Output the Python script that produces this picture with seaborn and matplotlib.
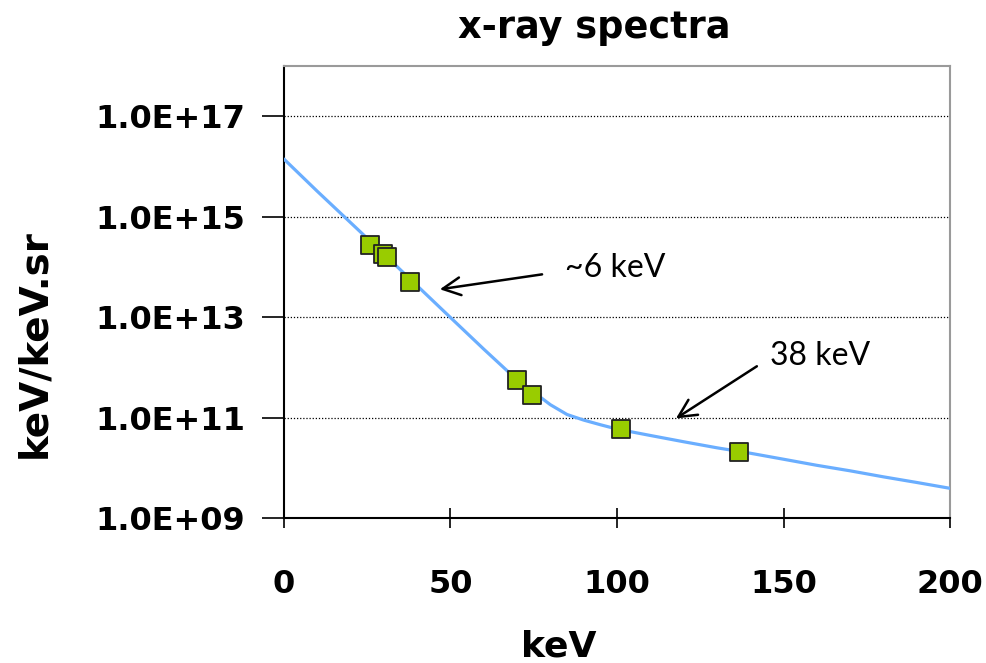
import numpy as np
import pandas as pd
import matplotlib
matplotlib.use("Agg")
import matplotlib.pyplot as plt
import seaborn as sns

# ---- data ----
line_kev = [0, 10, 20, 30, 40, 50, 60, 70, 75, 80, 85, 90, 95, 100,
            110, 120, 130, 140, 150, 160, 170, 180, 190, 200]
line_flux = [1.4e16, 3.2e15, 7.6e14, 1.8e14, 4.2e13, 9.8e12, 2.3e12, 5.6e11,
             3.2e11, 1.8e11, 1.15e11, 8.9e10, 7.2e10, 5.9e10, 4.4e10, 3.3e10,
             2.5e10, 1.95e10, 1.48e10, 1.12e10, 8.7e9, 6.6e9, 5.1e9, 3.9e9]
pts_kev = [25.8, 29.7, 30.9, 37.8, 70.0, 74.5, 101.2, 136.6]
pts_flux = [2.7e14, 1.8e14, 1.55e14, 4.9e13, 5.7e11, 2.8e11, 6.0e10, 2.1e10]
x_ticks = [0, 50, 100, 150, 200]
y_ticks = [1e9, 1e11, 1e13, 1e15, 1e17]
y_tick_labels = ["1.0E+09", "1.0E+11", "1.0E+13", "1.0E+15", "1.0E+17"]
title = "x-ray spectra"
x_label = "keV"
y_label = "keV/keV.sr"
notes = ["~6 keV", "38 keV"]
note_pos = [(84.4, 9.3e13), (145.9, 1.66e12)]
arrow_heads = [(46.8, 3.58e13), (117.7, 9.6e10)]
arrow_tails = [(77.5, 7.1e13), (142.0, 1.05e12)]

sns.set_theme(style="white")
plt.rcParams['font.family'] = ['DejaVu Sans']
plt.rcParams['text.color'] = 'black'
plt.rcParams['axes.labelcolor'] = 'black'
plt.rcParams['xtick.color'] = 'black'
plt.rcParams['ytick.color'] = 'black'

fig = plt.figure(figsize=(9.87, 6.63), dpi=100)
ax = fig.add_axes([284/987, 1-518/663, 666/987, 452/663])

line_df = pd.DataFrame({"kev": line_kev, "flux": line_flux})
pts_df = pd.DataFrame({"kev": pts_kev, "flux": pts_flux})

ax.set_yscale("log")
sns.lineplot(data=line_df, x="kev", y="flux", ax=ax, color="#6aaeff",
             linewidth=2.3, zorder=3)
sns.scatterplot(data=pts_df, x="kev", y="flux", ax=ax, marker="s", s=160,
                color="#99cc00", edgecolor="#222222", linewidth=1.3, zorder=4)

ax.set_xlim(0, 200)
ax.set_ylim(1e9, 1e18)
ax.set_xticks(x_ticks)
ax.set_xticklabels([str(v) for v in x_ticks])
ax.set_yticks(y_ticks)
ax.set_yticklabels(y_tick_labels)
ax.yaxis.set_minor_locator(matplotlib.ticker.NullLocator())
for yv in y_ticks[1:]:
    ax.axhline(yv, color="black", linestyle=(0, (1, 1.5)), linewidth=0.9, zorder=1)

for lab in ax.get_xticklabels() + ax.get_yticklabels():
    lab.set_fontweight("bold")
    lab.set_fontsize(23)
    lab.set_color("black")
ax.tick_params(axis="y", direction="out", length=16, width=1.2, pad=12, left=True,
               colors="black")
ax.tick_params(axis="x", direction="inout", length=14, width=1.2, pad=30, bottom=True,
               colors="black")

for side in ["left", "bottom"]:
    ax.spines[side].set_color("black")
    ax.spines[side].set_linewidth(1.5)
for side in ["top", "right"]:
    ax.spines[side].set_color("#9a9a9a")
    ax.spines[side].set_linewidth(1.5)

ax.set_xlabel(x_label, fontsize=26, fontweight="bold", color="black")
ax.xaxis.label.set_va("baseline")
ax.set_ylabel(y_label, fontsize=28, fontweight="bold", color="black")
ax.xaxis.set_label_coords(0.412, -0.3075)
ax.yaxis.set_label_coords(-0.346, 0.387)

fig.text(594/987, 1-28/663, title, fontsize=26.4, fontweight="bold",
         ha="center", va="center", color="black")

for txt, pos, head, tail in zip(notes, note_pos, arrow_heads, arrow_tails):
    ax.text(pos[0], pos[1], txt, fontsize=23, family=["Lato", "DejaVu Sans"],
            va="center", ha="left", color="black")
    ax.annotate("", xy=head, xytext=tail,
                arrowprops=dict(arrowstyle="->", color="black", lw=1.8,
                                mutation_scale=32, shrinkA=0, shrinkB=0))

fig.savefig("out.png", dpi=100)
